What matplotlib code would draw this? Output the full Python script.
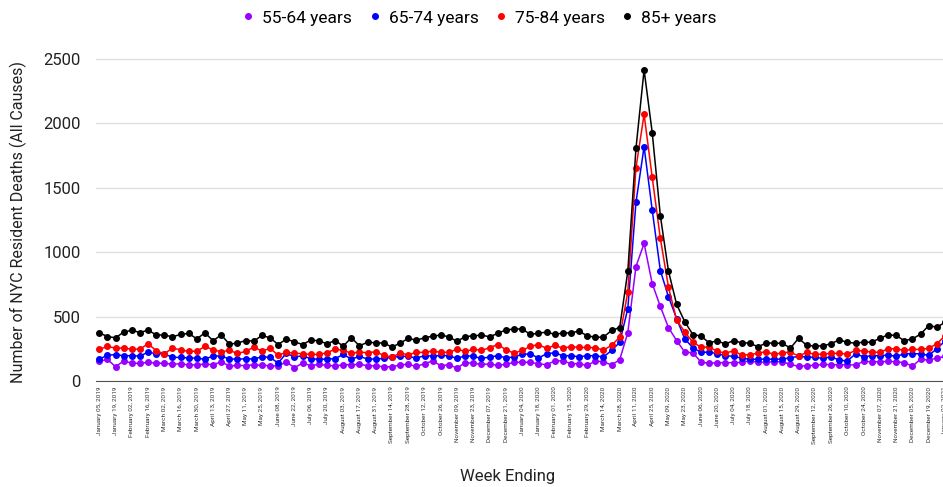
import numpy as np
import pandas as pd
import matplotlib
matplotlib.use("Agg")
import matplotlib.pyplot as plt

plt.rcParams['font.family'] = ['Roboto', 'DejaVu Sans']

# weekly data, week ending Jan 05 2019 ... Jan 02 2021
weeks = pd.date_range('2019-01-05', periods=105, freq='7D')
week_labels = [d.strftime('%B %d, %Y') for d in weeks]

age_55_64 = [152, 168, 111, 155, 139, 137, 144, 139, 137, 129, 134, 124, 126, 131, 126, 149, 116,
             121, 119, 126, 121, 119, 116, 149, 103, 139, 119, 129, 121, 116, 126, 126, 129, 119,
             116, 111, 108, 126, 129, 113, 134, 155, 119, 126, 100, 142, 137, 129, 131, 121, 129,
             144, 147, 144, 134, 126, 155, 157, 134, 134, 121, 155, 149, 124, 165,
             376, 888, 1067, 756, 578, 414,
             314, 224, 219, 147, 137, 142, 142, 142, 144, 157, 144, 147, 149, 149,
             129, 113, 119, 121, 129, 126, 126, 126, 124, 152, 149, 149, 152, 149, 142, 116, 168, 162, 178, 190]

age_65_74 = [168, 201, 204, 196, 196, 193, 224, 211, 211, 183, 183, 178, 178, 168, 196, 191, 173,
             168, 173, 170, 188, 183, 139, 216, 186, 196, 173, 168, 170, 173, 206, 170, 191, 170,
             170, 175, 183, 191, 191, 178, 196, 193, 198, 196, 175, 196, 191, 175, 186, 196, 180,
             186, 206, 211, 178, 211, 219, 196, 196, 188, 196, 196, 186, 237, 299,
             562, 1386, 1818, 1326, 857, 653,
             484, 327, 258, 222, 224, 211, 196, 191, 178, 168, 168, 170, 168, 170,
             180, 191, 186, 183, 175, 188, 162, 155, 211, 188, 196, 196, 201, 191, 211, 211, 211, 198, 250, 310]

age_75_84 = [245, 268, 255, 255, 247, 247, 289, 235, 211, 255, 242, 229, 232, 268, 242, 227, 237,
             214, 229, 263, 232, 253, 201, 222, 216, 211, 206, 206, 219, 247, 237, 216, 224, 219,
             227, 198, 186, 216, 204, 222, 222, 232, 222, 222, 247, 229, 247, 237, 258, 283, 243,
             216, 237, 268, 283, 253, 276, 255, 266, 260, 260, 258, 240, 276, 340,
             692, 1653, 2069, 1580, 1106, 728,
             474, 380, 300, 262, 263, 230, 216, 234, 201, 204, 216, 227, 206, 219,
             224, 193, 222, 206, 209, 214, 214, 209, 237, 232, 224, 222, 250, 250, 237, 245, 245, 253, 289, 350]

age_85_plus = [374, 345, 335, 379, 394, 376, 394, 358, 356, 343, 361, 369, 327, 374, 312, 358, 286,
               294, 314, 309, 353, 335, 283, 325, 304, 283, 317, 312, 289, 314, 271, 335, 273, 301,
               296, 294, 263, 294, 330, 317, 335, 348, 356, 343, 307, 345, 350, 356, 343, 369, 397,
               402, 405, 361, 371, 379, 363, 371, 374, 387, 350, 340, 340, 392, 415,
               852, 1805, 2414, 1927, 1282, 852,
               595, 460, 360, 349, 296, 312, 286, 314, 296, 294, 265, 294, 294, 292,
               255, 332, 276, 271, 273, 289, 320, 299, 294, 301, 301, 332, 358, 353, 312, 327, 363, 430, 417, 455]

series = [("55-64 years", age_55_64, "#9900ff"),
          ("65-74 years", age_65_74, "#0000ff"),
          ("75-84 years", age_75_84, "#ff0000"),
          ("85+ years", age_85_plus, "#000000")]

fig = plt.figure(figsize=(9.43, 4.87), dpi=100)
# axes runs past the right edge, as in the original screenshot
ax = fig.add_axes([0.1018, 0.2177, 0.9046, 0.688])

x = np.arange(len(weeks))
for name, vals, col in series:
    ax.plot(x, vals, color=col, lw=1.1, marker='o', markersize=4, label=name)

ax.set_xlim(-0.4, 104.5)
ax.set_ylim(0, 2600)
ax.set_yticks([0, 500, 1000, 1500, 2000, 2500])
ax.grid(axis='y', color='#e0e0e0', lw=1)
ax.set_axisbelow(True)
for s in ['top', 'right', 'left']:
    ax.spines[s].set_visible(False)
ax.spines['bottom'].set_color('#555555')
ax.tick_params(axis='y', length=0, labelsize=12, pad=11, labelcolor='#222222')

ax.set_xticks(x[::2])
ax.set_xticklabels(week_labels[::2], rotation=90, fontsize=4.6, color='#333333')
ax.tick_params(axis='x', length=0, pad=4)

fig.text(508 / 943, 1 - 476 / 487, "Week Ending", ha='center', va='center', fontsize=12, color='#222222')
fig.text(18 / 943, 1 - 222 / 487, "Number of NYC Resident Deaths (All Causes)", rotation=90,
         ha='center', va='center', fontsize=11.5, color='#222222')

fig.legend(loc='center', bbox_to_anchor=(480 / 943, 1 - 18 / 487), ncol=4, frameon=False,
           fontsize=12.5, handlelength=0.6, handletextpad=0.5, columnspacing=1.0,
           markerscale=1.0)
leg = fig.legends[0]
for h in leg.legend_handles:
    h.set_linestyle('none')

fig.savefig("out.png", dpi=100)
